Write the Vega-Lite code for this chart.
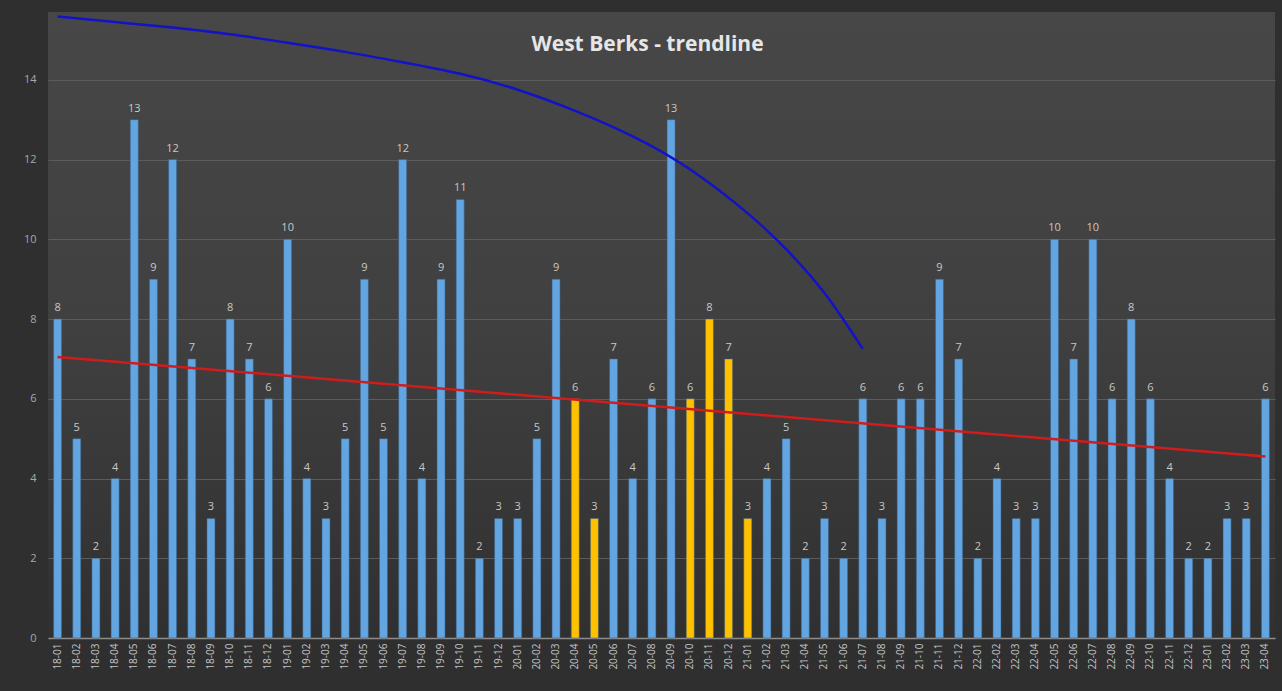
{
  "$schema": "https://vega.github.io/schema/vega-lite/v6.json",
  "autosize": "none",
  "width": 1227,
  "height": 626,
  "padding": {"left": 48, "top": 12, "right": 7, "bottom": 53},
  "background": "#2f2f2f",
  "config": {
    "view": {"stroke": null, "fill": {"gradient": "linear", "x1": 0, "y1": 0, "x2": 0, "y2": 1, "stops": [{"offset": 0, "color": "#474747"}, {"offset": 0.5, "color": "#404040"}, {"offset": 1, "color": "#303030"}]}},
    "font": "Open Sans"
  },
  "title": {
    "text": "West Berks - trendline",
    "offset": -44,
    "dx": -14,
    "fontSize": 21,
    "fontWeight": "bold",
    "color": "#e6e6e6",
    "font": "Open Sans"
  },
  "datasets": {
    "bars": [
      {"m":"18-01","v":8,"h":0},{"m":"18-02","v":5,"h":0},{"m":"18-03","v":2,"h":0},{"m":"18-04","v":4,"h":0},
      {"m":"18-05","v":13,"h":0},{"m":"18-06","v":9,"h":0},{"m":"18-07","v":12,"h":0},{"m":"18-08","v":7,"h":0},
      {"m":"18-09","v":3,"h":0},{"m":"18-10","v":8,"h":0},{"m":"18-11","v":7,"h":0},{"m":"18-12","v":6,"h":0},
      {"m":"19-01","v":10,"h":0},{"m":"19-02","v":4,"h":0},{"m":"19-03","v":3,"h":0},{"m":"19-04","v":5,"h":0},
      {"m":"19-05","v":9,"h":0},{"m":"19-06","v":5,"h":0},{"m":"19-07","v":12,"h":0},{"m":"19-08","v":4,"h":0},
      {"m":"19-09","v":9,"h":0},{"m":"19-10","v":11,"h":0},{"m":"19-11","v":2,"h":0},{"m":"19-12","v":3,"h":0},
      {"m":"20-01","v":3,"h":0},{"m":"20-02","v":5,"h":0},{"m":"20-03","v":9,"h":0},{"m":"20-04","v":6,"h":1},
      {"m":"20-05","v":3,"h":1},{"m":"20-06","v":7,"h":0},{"m":"20-07","v":4,"h":0},{"m":"20-08","v":6,"h":0},
      {"m":"20-09","v":13,"h":0},{"m":"20-10","v":6,"h":1},{"m":"20-11","v":8,"h":1},{"m":"20-12","v":7,"h":1},
      {"m":"21-01","v":3,"h":1},{"m":"21-02","v":4,"h":0},{"m":"21-03","v":5,"h":0},{"m":"21-04","v":2,"h":0},
      {"m":"21-05","v":3,"h":0},{"m":"21-06","v":2,"h":0},{"m":"21-07","v":6,"h":0},{"m":"21-08","v":3,"h":0},
      {"m":"21-09","v":6,"h":0},{"m":"21-10","v":6,"h":0},{"m":"21-11","v":9,"h":0},{"m":"21-12","v":7,"h":0},
      {"m":"22-01","v":2,"h":0},{"m":"22-02","v":4,"h":0},{"m":"22-03","v":3,"h":0},{"m":"22-04","v":3,"h":0},
      {"m":"22-05","v":10,"h":0},{"m":"22-06","v":7,"h":0},{"m":"22-07","v":10,"h":0},{"m":"22-08","v":6,"h":0},
      {"m":"22-09","v":8,"h":0},{"m":"22-10","v":6,"h":0},{"m":"22-11","v":4,"h":0},{"m":"22-12","v":2,"h":0},
      {"m":"23-01","v":2,"h":0},{"m":"23-02","v":3,"h":0},{"m":"23-03","v":3,"h":0},{"m":"23-04","v":6,"h":0}
    ],
    "trend": [
      {"m":"18-01","t":7.05},{"m":"23-04","t":4.55}
    ],
    "curve": [
      {"m":"18-01","c":15.59},{"m":"18-04","c":15.45},{"m":"18-07","c":15.31},{"m":"18-10","c":15.14},
      {"m":"19-01","c":14.93},{"m":"19-04","c":14.70},{"m":"19-07","c":14.44},{"m":"19-10","c":14.15},
      {"m":"20-01","c":13.75},{"m":"20-04","c":13.22},{"m":"20-07","c":12.58},{"m":"20-10","c":11.75},
      {"m":"21-01","c":10.65},{"m":"21-03","c":9.75},{"m":"21-05","c":8.65},{"m":"21-07","c":7.25}
    ]
  },
  "encoding": {
    "x": {
      "field": "m", "type": "ordinal",
      "scale": {"paddingInner": 0, "paddingOuter": 0},
      "axis": {
        "title": null, "labelAngle": -90, "labelFontSize": 10, "labelColor": "#c4c4c4",
        "labelPadding": 5, "ticks": false, "domainColor": "#8c8c8c", "domainWidth": 1.5,
        "grid": false, "labelFont": "Open Sans"
      }
    }
  },
  "layer": [
    {
      "data": {"name": "bars"},
      "mark": {"type": "bar", "size": 8, "stroke": "#3a5f80", "strokeWidth": 0.5},
      "encoding": {
        "y": {
          "field": "v", "type": "quantitative",
          "scale": {"domain": [0, 15.7], "nice": false},
          "axis": {
            "title": null, "values": [0,2,4,6,8,10,12,14], "labelFontSize": 11,
            "labelColor": "#a8a8a8", "labelPadding": 12, "ticks": false, "domain": false,
            "gridColor": "#5c5c5c", "gridWidth": 1, "labelFont": "Open Sans"
          }
        },
        "color": {
          "field": "h", "type": "nominal",
          "scale": {"domain": [0, 1], "range": ["#62a5e0", "#ffc000"]},
          "legend": null
        }
      }
    },
    {
      "data": {"name": "bars"},
      "mark": {"type": "text", "baseline": "bottom", "dy": -6, "fontSize": 11, "color": "#c8c8c8"},
      "encoding": {
        "y": {"field": "v", "type": "quantitative"},
        "text": {"field": "v", "type": "quantitative"}
      }
    },
    {
      "data": {"name": "trend"},
      "mark": {"type": "line", "color": "#d01c1c", "strokeWidth": 2.5},
      "encoding": {
        "y": {"field": "t", "type": "quantitative"}
      }
    },
    {
      "data": {"name": "curve"},
      "mark": {"type": "line", "color": "#1212c8", "strokeWidth": 2.5, "interpolate": "natural"},
      "encoding": {
        "y": {"field": "c", "type": "quantitative"}
      }
    }
  ]
}
